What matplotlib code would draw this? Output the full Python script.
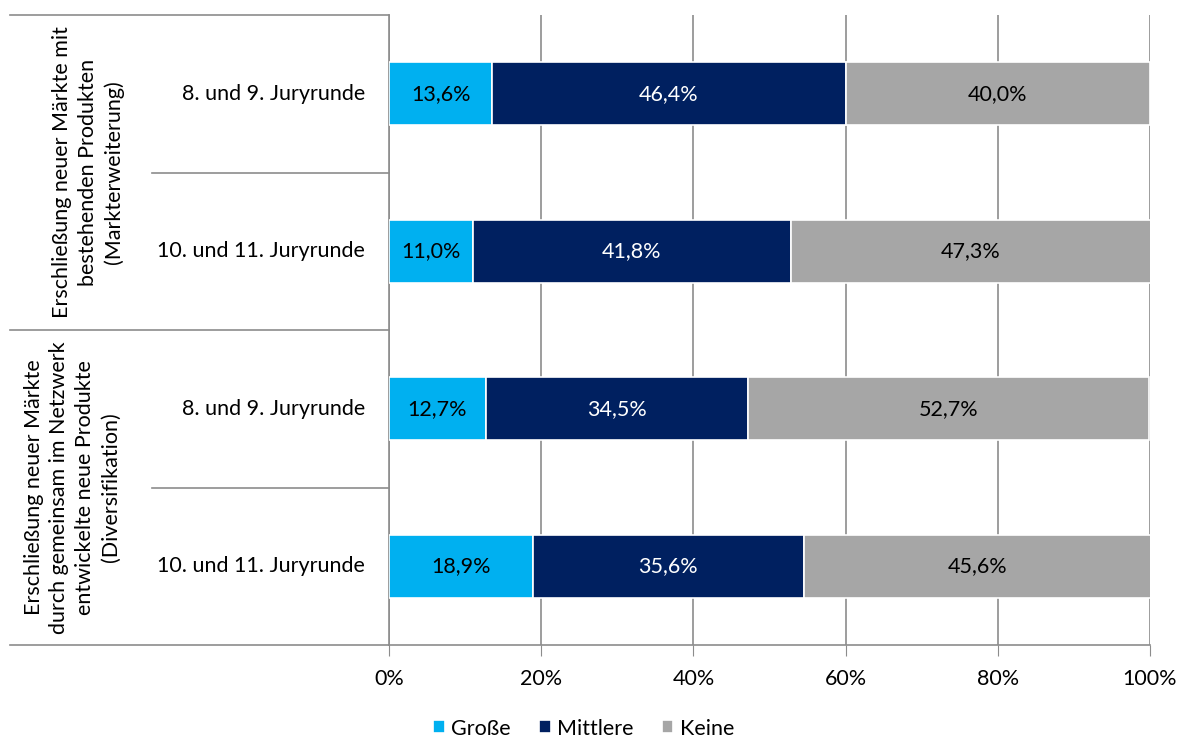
import matplotlib.pyplot as plt
import matplotlib.transforms as mtransforms
import numpy as np

plt.rcParams['font.family'] = ['Lato', 'DejaVu Sans']

rounds = ["8. und 9. Juryrunde", "10. und 11. Juryrunde",
          "8. und 9. Juryrunde", "10. und 11. Juryrunde"]
groups = ["Erschließung neuer Märkte mit\nbestehenden Produkten\n(Markterweiterung)",
          "Erschließung neuer Märkte\ndurch gemeinsam im Netzwerk\nentwickelte neue Produkte\n(Diversifikation)"]
series = ["Große", "Mittlere", "Keine"]
grosse = [13.6, 11.0, 12.7, 18.9]
mittlere = [46.4, 41.8, 34.5, 35.6]
keine = [40.0, 47.3, 52.7, 45.6]

colors = ["#00B0F0", "#002060", "#A6A6A6"]
text_colors = ["black", "white", "black"]
grid_col = "#8C8C8C"
fs = 15.5

fig = plt.figure(figsize=(11.79, 7.38), dpi=100)
ax = fig.add_axes([389 / 1179, 1 - 645 / 738, (1150 - 389) / 1179, (645 - 15) / 738])

y = np.arange(len(rounds))
left = np.zeros(len(rounds))
for name, vals, c, tc in zip(series, [grosse, mittlere, keine], colors, text_colors):
    vals = np.array(vals)
    bars = ax.barh(y, vals, left=left, height=0.4, color=c, edgecolor="white",
                   linewidth=1.2, label=name, zorder=3)
    for b, v in zip(bars, vals):
        ax.text(b.get_x() + b.get_width() / 2, b.get_y() + b.get_height() / 2,
                f"{v:.1f}%".replace(".", ","), ha="center", va="center",
                color=tc, fontsize=fs, zorder=4)
    left += vals

ax.set_xlim(0, 100)
ax.set_ylim(3.5, -0.5)
ax.set_xticks(np.arange(0, 101, 20))
ax.set_xticklabels([f"{t}%" for t in range(0, 101, 20)], fontsize=fs)
ax.tick_params(axis="x", length=8, color=grid_col, pad=9)
ax.set_yticks([])
ax.xaxis.grid(True, color=grid_col, linewidth=1.2, zorder=0)
for s in ["top", "right"]:
    ax.spines[s].set_visible(False)
for s in ["left", "bottom"]:
    ax.spines[s].set_color(grid_col)
    ax.spines[s].set_linewidth(1.2)

# multi-level category axis on the left
trans = mtransforms.blended_transform_factory(fig.transFigure, ax.transData)
x_axis = 389 / 1179
for yb, x0 in [(-0.5, 10), (0.5, 152), (1.5, 10), (2.5, 152), (3.5, 10)]:
    ax.plot([x0 / 1179, x_axis], [yb, yb], color=grid_col, linewidth=1.2,
            transform=trans, clip_on=False)
for yi, lab in zip(y, rounds):
    ax.text(365 / 1179, yi, lab, transform=trans, ha="right", va="center", fontsize=fs)
for gi, (lab, xc) in enumerate(zip(groups, [88, 72])):
    ax.text(xc / 1179, 0.5 + 2 * gi, lab, transform=trans, ha="center", va="center",
            rotation=90, fontsize=fs, linespacing=1.35)

fig.legend(loc="lower center", bbox_to_anchor=(0.495, -0.027), ncol=3, frameon=False,
           fontsize=fs, handlelength=0.55, handleheight=0.55, handletextpad=0.3,
           columnspacing=1.3)

fig.savefig("out.png", dpi=100)
